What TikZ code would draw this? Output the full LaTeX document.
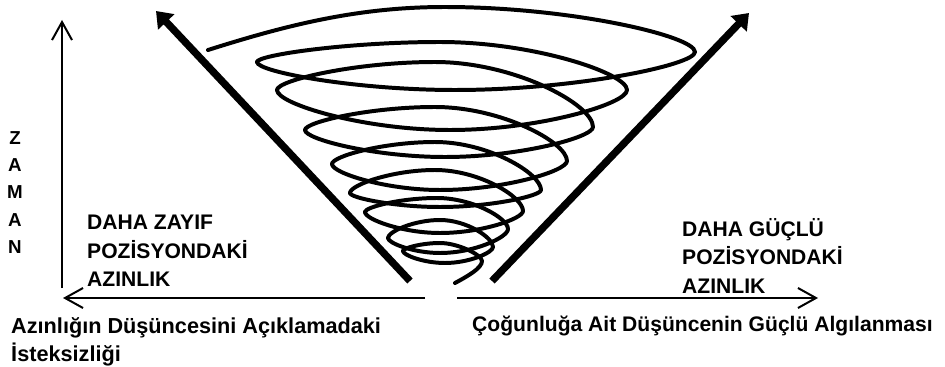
\documentclass[tikz,border=0pt]{standalone}
\usepackage{fontspec}
\setmainfont{Liberation Sans}[BoldFont={Liberation Sans Bold}]
\usetikzlibrary{arrows.meta}

\newcommand{\tipk}{0.35}
\newcommand{\midk}{0.5}

\begin{document}
\begin{tikzpicture}[
        x=0.03cm, y=-0.03cm,
        axisarrow/.style={line width=1.7pt, -{Straight Barb[length=5.4mm, width=6mm]}},
        forcearrow/.style={line width=2.2mm, -{Triangle[length=4.5mm, width=6.5mm]}},
        spiralline/.style={line width=3.4pt, line cap=round, line join=round},
        blocktext/.style={font=\bfseries\fontsize{18}{24.3}\selectfont, inner sep=0pt, align=left},
        axistext/.style={font=\bfseries\fontsize{16}{23.4}\selectfont, inner sep=0pt, align=center}
    ]

        \useasboundingbox (0,0) rectangle (945,367);

        % ================= EKSENLER =================
        \coordinate (timebase) at (62,288);
        \coordinate (timetip) at (62,20);
        \coordinate (leftstart) at (425,298);
        \coordinate (lefttip) at (63,298);
        \coordinate (rightstart) at (457,298);
        \coordinate (righttip) at (818,298);

        \draw[axisarrow] (timebase) -- (timetip);
        \draw[axisarrow] (leftstart) -- (lefttip);
        \draw[axisarrow] (rightstart) -- (righttip);

        % ================= KALIN OKLAR =================
        \coordinate (weakbase) at (410,281);
        \coordinate (weaktip) at (156,11);
        \coordinate (strongbase) at (492,281);
        \coordinate (strongtip) at (749,13);

        \draw[forcearrow] (weakbase) -- (weaktip);
        \draw[forcearrow] (strongbase) -- (strongtip);

        % ================= SARMAL =================
        % ilk (en geniş) tur
        \draw[spiralline] (208,50) .. controls (290,24) and (360,7) .. (445,7)
            .. controls (570,7) and (695,36) .. (695,52)
            .. controls (695,65) and (575,90) .. (455,90)
            .. controls (356,90) and (257,72) .. (257,62);

        % ara turlar: sol uç / arka / sağ uç / ön / sonraki sol uç
        \foreach \lx/\ly/\bx/\by/\rx/\ry/\fx/\fy/\nx/\ny in {
            257/62/440/42/627/90/450/130/277/90,
            277/90/435/62/593/127/445/157/305/130,
            305/130/435/107/567/161/440/190/332/164,
            332/164/435/142/541/190/440/207/350/193,
            350/193/435/170/523/211/440/233/365/212,
            365/212/437/198/508/229/440/253/388/238,
            388/238/440/220/493/247/445/263/403/251}
        {
            \draw[spiralline] (\lx,\ly)
                .. controls (\lx,{\ly+\tipk*(\by-\ly)}) and ({\bx+\midk*(\lx-\bx)},\by) .. (\bx,\by)
                .. controls ({\bx+\midk*(\rx-\bx)},\by) and (\rx,{\ry+\tipk*(\by-\ry)}) .. (\rx,\ry)
                .. controls (\rx,{\ry+\tipk*(\fy-\ry)}) and ({\fx+\midk*(\rx-\fx)},\fy) .. (\fx,\fy)
                .. controls ({\fx+\midk*(\nx-\fx)},\fy) and (\nx,{\ny+\tipk*(\fy-\ny)}) .. (\nx,\ny);
        }

        % son küçük tur ve uç
        \draw[spiralline] (403,251) .. controls (403,248) and (422,243) .. (440,243)
            .. controls (458,243) and (482,255) .. (482,261)
            .. controls (482,268) and (468,276) .. (455,283);

        % ================= YAZILAR =================
        \node[axistext, anchor=north] (zaman) at (15,131) {Z\\A\\M\\A\\N};

        \node[blocktext, anchor=north west] (weak) at (87,215) {DAHA ZAYIF\\POZİSYONDAKİ\\AZINLIK};
        \node[blocktext, anchor=north west] (strong) at (682,218) {DAHA GÜÇLÜ\\POZİSYONDAKİ\\AZINLIK};

        \node[blocktext, font=\bfseries\fontsize{18.5}{23.8}\selectfont, anchor=north west] (reluct) at (11,317) {Azınlığın Düşüncesini Açıklamadaki\\İsteksizliği};
        \node[blocktext, anchor=base west] (percep) at (472,331) {Çoğunluğa Ait Düşüncenin Güçlü Algılanması};

    \end{tikzpicture}
\end{document}
